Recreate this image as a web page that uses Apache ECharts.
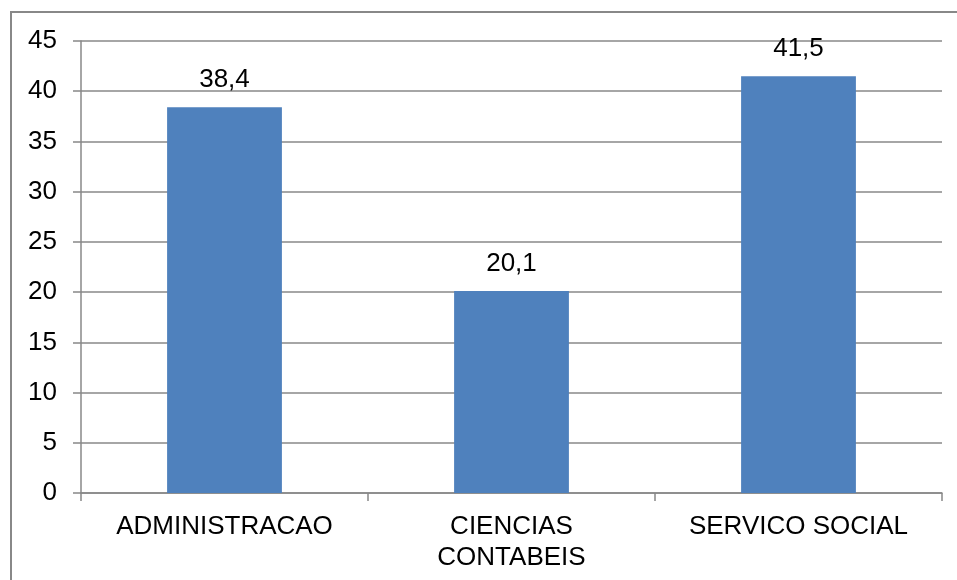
<!DOCTYPE html>
<html>
<head>
<meta charset="utf-8">
<script src="https://cdn.jsdelivr.net/npm/echarts@6/dist/echarts.min.js"></script>
<style>
  html, body { margin: 0; padding: 0; background: #fff; }
  #main { width: 957px; height: 580px; }
</style>
</head>
<body>
<div id="main"></div>
<script>
// dados do gráfico
var categories = ['ADMINISTRACAO', 'CIENCIAS\nCONTABEIS', 'SERVICO SOCIAL']
var values = [38.4, 20.1, 41.5]
var yMin = 0
var yMax = 45
var yStep = 5

var myChart = echarts.init(document.getElementById('main'))
var font = 'Liberation Sans, Arial, sans-serif'
var gray = '#888888'

var option = {
  animation: false,
  graphic: [
    {
      type: 'rect',
      shape: { x: 11, y: 12, width: 960, height: 600 },
      style: { fill: 'none', stroke: gray, lineWidth: 2 }
    }
  ],
  grid: { left: 81, right: 15, top: 41, bottom: 87 },
  xAxis: {
    type: 'category',
    data: categories,
    axisLine: { lineStyle: { color: gray, width: 1.5 } },
    axisTick: { show: true, length: 8, lineStyle: { color: gray, width: 1.5 } },
    axisLabel: {
      color: '#000',
      fontSize: 26,
      fontFamily: font,
      margin: 18,
      lineHeight: 31
    }
  },
  yAxis: {
    type: 'value',
    min: yMin,
    max: yMax,
    interval: yStep,
    axisLine: { show: true, lineStyle: { color: gray, width: 1.5 } },
    axisTick: { show: true, length: 8, lineStyle: { color: gray, width: 1.5 } },
    splitLine: { lineStyle: { color: gray, width: 1.5 } },
    axisLabel: {
      color: '#000',
      fontSize: 26,
      fontFamily: font,
      margin: 24
    }
  },
  series: [
    {
      type: 'bar',
      data: values,
      barWidth: '40%',
      itemStyle: { color: '#4f81bd' },
      label: {
        show: true,
        position: 'top',
        distance: 14,
        color: '#000',
        fontSize: 26,
        fontFamily: font,
        formatter: function (p) {
          return String(p.value).replace('.', ',')
        }
      }
    }
  ]
}

myChart.setOption(option)
</script>
</body>
</html>
